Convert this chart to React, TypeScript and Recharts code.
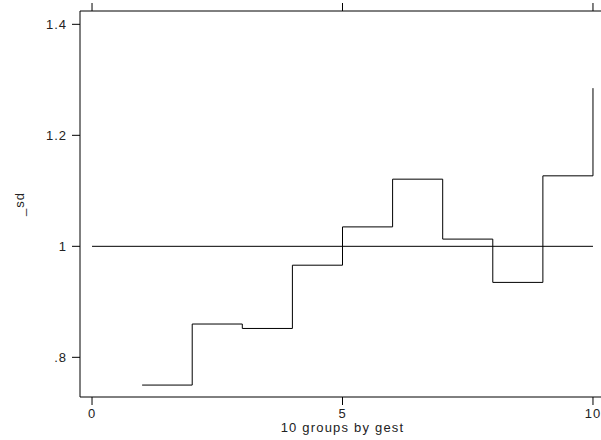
import { LineChart, Line, XAxis, YAxis, ReferenceLine, Label } from 'recharts';

// group number (1..10) and the _sd value of each group
const groups = [1, 2, 3, 4, 5, 6, 7, 8, 9, 10];
const sdValues = [0.75, 0.86, 0.852, 0.966, 1.035, 1.121, 1.013, 0.935, 1.127, 1.285];

const xTicks = [0, 5, 10];
const yTicks = [0.8, 1, 1.2, 1.4];
const refLevel = 1;

const data = groups.map((g, i) => ({ group: g, sd: sdValues[i] }));

const FONT = '"Liberation Sans", Arial, Helvetica, sans-serif';
const tickStyle = { fill: '#222', fontSize: 13, fontFamily: FONT, letterSpacing: 1 };

// Stata style: .8 instead of 0.8
const fmtY = (v: number) => String(v).replace(/^0\./, '.');

export default function App() {
  return (
    <div style={{ position: 'absolute', left: 0, top: 0, width: 601, height: 440, overflow: 'hidden', background: '#fff' }}>
      <LineChart width={610} height={440} data={data} margin={{ top: 0, right: 5, bottom: 0, left: 0 }}>
        <XAxis
          xAxisId="bottom"
          dataKey="group"
          type="number"
          domain={[-0.24, 10.24]}
          ticks={xTicks}
          height={43}
          tickSize={8}
          tickMargin={4}
          stroke="#000"
          tick={tickStyle}
          allowDataOverflow
        >
          <Label
            content={({ viewBox }: any) => (
              <text
                x={viewBox.x + viewBox.width / 2}
                y={viewBox.y + 35}
                textAnchor="middle"
                fill="#222"
                fontSize={13}
                fontFamily={FONT}
                style={{ letterSpacing: 1.2 }}
              >
                10 groups by gest
              </text>
            )}
          />
        </XAxis>
        {/* mirrored top axis: tick marks only, no labels */}
        <XAxis
          xAxisId="top"
          orientation="top"
          dataKey="group"
          type="number"
          domain={[-0.24, 10.24]}
          ticks={xTicks}
          height={11}
          tickSize={8}
          tickLine={{ stroke: '#000' }}
          tick={() => <g />}
          stroke="#000"
          allowDataOverflow
        />
        <YAxis
          type="number"
          domain={[0.7285, 1.424]}
          ticks={yTicks}
          width={80}
          tickSize={8}
          tickMargin={5}
          tickFormatter={fmtY}
          stroke="#000"
          tick={tickStyle}
          allowDataOverflow
        >
          <Label
            content={({ viewBox }: any) => {
              const cx = 19;
              const cy = viewBox.y + viewBox.height / 2;
              return (
                <text
                  x={cx}
                  y={cy}
                  transform={`rotate(-90, ${cx}, ${cy})`}
                  textAnchor="middle"
                  dominantBaseline="central"
                  fill="#222"
                  fontSize={13}
                  fontFamily={FONT}
                  style={{ letterSpacing: 1 }}
                >
                  _sd
                </text>
              );
            }}
          />
        </YAxis>
        <ReferenceLine
          xAxisId="bottom"
          segment={[{ x: xTicks[0], y: refLevel }, { x: xTicks[2], y: refLevel }]}
          stroke="#000"
          strokeWidth={1}
        />
        <Line
          xAxisId="bottom"
          type="stepAfter"
          dataKey="sd"
          stroke="#000"
          strokeWidth={1}
          dot={false}
          isAnimationActive={false}
        />
      </LineChart>
    </div>
  );
}
